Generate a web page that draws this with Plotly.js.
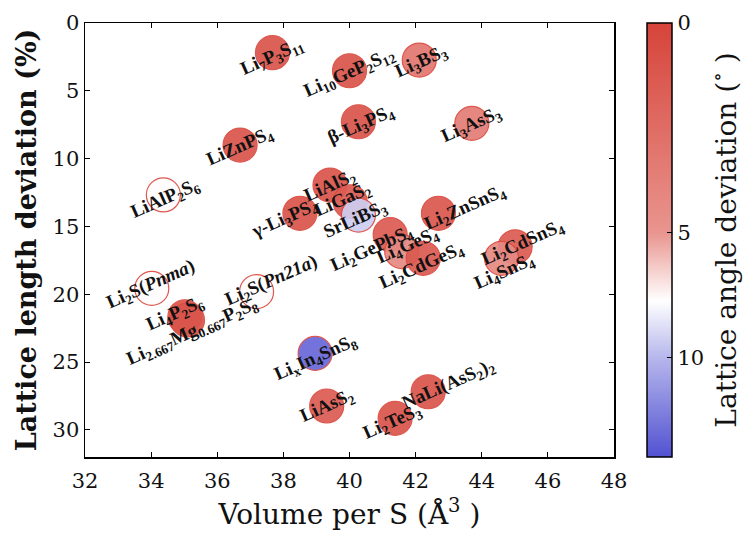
<!DOCTYPE html>
<html>
<head>
<meta charset="utf-8">
<script src="https://cdn.plot.ly/plotly-3.0.1.min.js"></script>
<style>html,body{margin:0;padding:0;background:#fff;}#chart{width:745px;height:535px;}</style>
</head>
<body>
<div id="chart"></div>
<script>
// ---- data ----
const compounds = [
  'Li<sub>7</sub>P<sub>3</sub>S<sub>11</sub>',
  'Li<sub>10</sub>GeP<sub>2</sub>S<sub>12</sub>',
  'Li<sub>3</sub>BS<sub>3</sub>',
  'β-Li<sub>3</sub>PS<sub>4</sub>',
  'LiZnPS<sub>4</sub>',
  'Li<sub>3</sub>AsS<sub>3</sub>',
  'LiAlP<sub>2</sub>S<sub>6</sub>',
  'LiAlS<sub>2</sub>',
  'LiGaS<sub>2</sub>',
  'γ-Li<sub>3</sub>PS<sub>4</sub>',
  'SrLiBS<sub>3</sub>',
  'Li<sub>2</sub>GePbS<sub>4</sub>',
  'Li<sub>2</sub>ZnSnS<sub>4</sub>',
  'Li<sub>4</sub>GeS<sub>4</sub>',
  'Li<sub>2</sub>CdGeS<sub>4</sub>',
  'Li<sub>2</sub>CdSnS<sub>4</sub>',
  'Li<sub>4</sub>SnS<sub>4</sub>',
  'Li<sub>2</sub>S(<i>Pnma</i>)',
  'Li<sub>2</sub>S(<i>Pn21a</i>)',
  'Li<sub>4</sub>P<sub>2</sub>S<sub>6</sub>',
  'Li<sub>2.667</sub>Mg<sub>0.667</sub>P<sub>2</sub>S<sub>8</sub>',
  'Li<sub>x</sub>In<sub>4</sub>SnS<sub>8</sub>',
  'LiAsS<sub>2</sub>',
  'Li<sub>2</sub>TeS<sub>3</sub>',
  'NaLi(AsS<sub>2</sub>)<sub>2</sub>'
];
const volumePerS = [37.67, 40.00, 42.11, 40.27, 36.69, 43.70, 34.37, 39.41, 40.02, 38.50, 40.27, 41.23, 42.69, 41.58, 42.23, 45.01, 44.60, 34.02, 37.19, 35.02, 35.10, 38.96, 39.31, 41.38, 42.38];
const lengthDeviation = [2.19, 3.52, 2.73, 7.28, 9.00, 7.40, 12.68, 11.95, 13.18, 14.03, 14.16, 15.60, 14.03, 16.86, 17.35, 16.50, 17.35, 19.57, 19.81, 21.66, 21.90, 24.36, 28.24, 29.15, 27.19];
const angleDeviation = [0.5, 0.5, 2.5, 0.5, 0.5, 3.0, 7.5, 0.5, 0.8, 0.5, 9.2, 0.8, 0.6, 4.0, 0.7, 0.8, 4.0, 7.5, 7.5, 0.5, 0.5, 13.6, 0.8, 0.5, 0.5];
const xTicks = [32, 34, 36, 38, 40, 42, 44, 46, 48];
const yTicks = [0, 5, 10, 15, 20, 25, 30];
const cbTicks = [0, 5, 10];

// label offsets in pixels (right, down) relative to the marker
const labelDx = [0, 0, 2, 3, 0, 0, 2, 1, -7, -15, -3, -18, 27, 6, -1, 8, 3, -1, 15, -10, 5, 1, 1, -2, 20];
const labelDy = [4, 2, 2, 3, 2, 2, 4, 1, -2, 6, 5, 14, -5, -6, 8, -4, 14, -3, -11, -3, 12, 5, 0, 4, -7];

// colour bar scale (power-like norm as seen on the reference colour bar)
const VMAX = 14.7, GAMMA = 0.674;
const norm = a => Math.pow(Math.max(a, 0) / VMAX, GAMMA);
const cval = a => 1 - norm(a);

const serif = 'DejaVu Serif, Liberation Serif, serif';
const labelSerif = 'Liberation Serif, DejaVu Serif, serif';

const trace = {
  type: 'scatter',
  mode: 'markers',
  x: volumePerS,
  y: lengthDeviation,
  hoverinfo: 'skip',
  marker: {
    size: 34,
    color: angleDeviation.map(cval),
    cmin: 0, cmax: 1,
    colorscale: [
      [0, '#5252d2'],
      [0.228, '#b6b6ec'],
      [0.36, '#ffffff'],
      [0.516, '#e9958f'],
      [1, '#d6443a']
    ],
    opacity: 0.92,
    line: {color: '#dc4a40', width: 1.2},
    showscale: true,
    colorbar: {
      x: (647 - 85) / 529, xanchor: 'left', xpad: 0,
      y: 0.5, yanchor: 'middle', ypad: 0,
      len: 1, lenmode: 'fraction',
      thickness: 25, thicknessmode: 'pixels',
      outlinecolor: '#000', outlinewidth: 1.5,
      ticks: 'inside', ticklen: 5, tickcolor: '#000',
      tickvals: cbTicks.map(cval),
      ticktext: cbTicks.map(String),
      tickfont: {family: serif, size: 21, color: '#111'},
      title: {text: 'Lattice angle deviation (<sup>∘</sup> )', side: 'right', font: {family: serif, size: 28, color: '#111'}}
    }
  }
};

const annotations = compounds.map((c, i) => ({
  x: volumePerS[i], y: lengthDeviation[i],
  xref: 'x', yref: 'y',
  text: c, showarrow: false,
  textangle: -24,
  xanchor: 'center', yanchor: 'middle',
  xshift: labelDx[i], yshift: -labelDy[i],
  font: {family: labelSerif, size: 19, color: '#111', weight: 'bold'}
}));

const axisCommon = {
  showline: true, linecolor: '#000', linewidth: 1.5,
  mirror: 'ticks', ticks: 'inside', ticklen: 5, tickcolor: '#000', tickwidth: 1,
  showgrid: false, zeroline: false, automargin: false,
  tickfont: {family: serif, size: 21, color: '#111'}
};

const layout = {
  width: 745, height: 535,
  margin: {l: 85, r: 131, t: 23, b: 78, autoexpand: false},
  paper_bgcolor: '#fff', plot_bgcolor: '#fff',
  showlegend: false,
  xaxis: Object.assign({}, axisCommon, {
    range: [32, 48], tickvals: xTicks, ticklabelstandoff: 4,
    title: {text: 'Volume per S (Å<sup>3</sup> )', font: {family: serif, size: 28, color: '#111'}, standoff: 12}
  }),
  yaxis: Object.assign({}, axisCommon, {
    range: [32, 0], tickvals: yTicks,
    title: {text: 'Lattice length deviation (%)', font: {family: serif, size: 27, color: '#111', weight: 'bold'}, standoff: 8}
  }),
  annotations: annotations
};

Plotly.newPlot('chart', [trace], layout, {displayModeBar: false, staticPlot: true});
</script>
</body>
</html>
